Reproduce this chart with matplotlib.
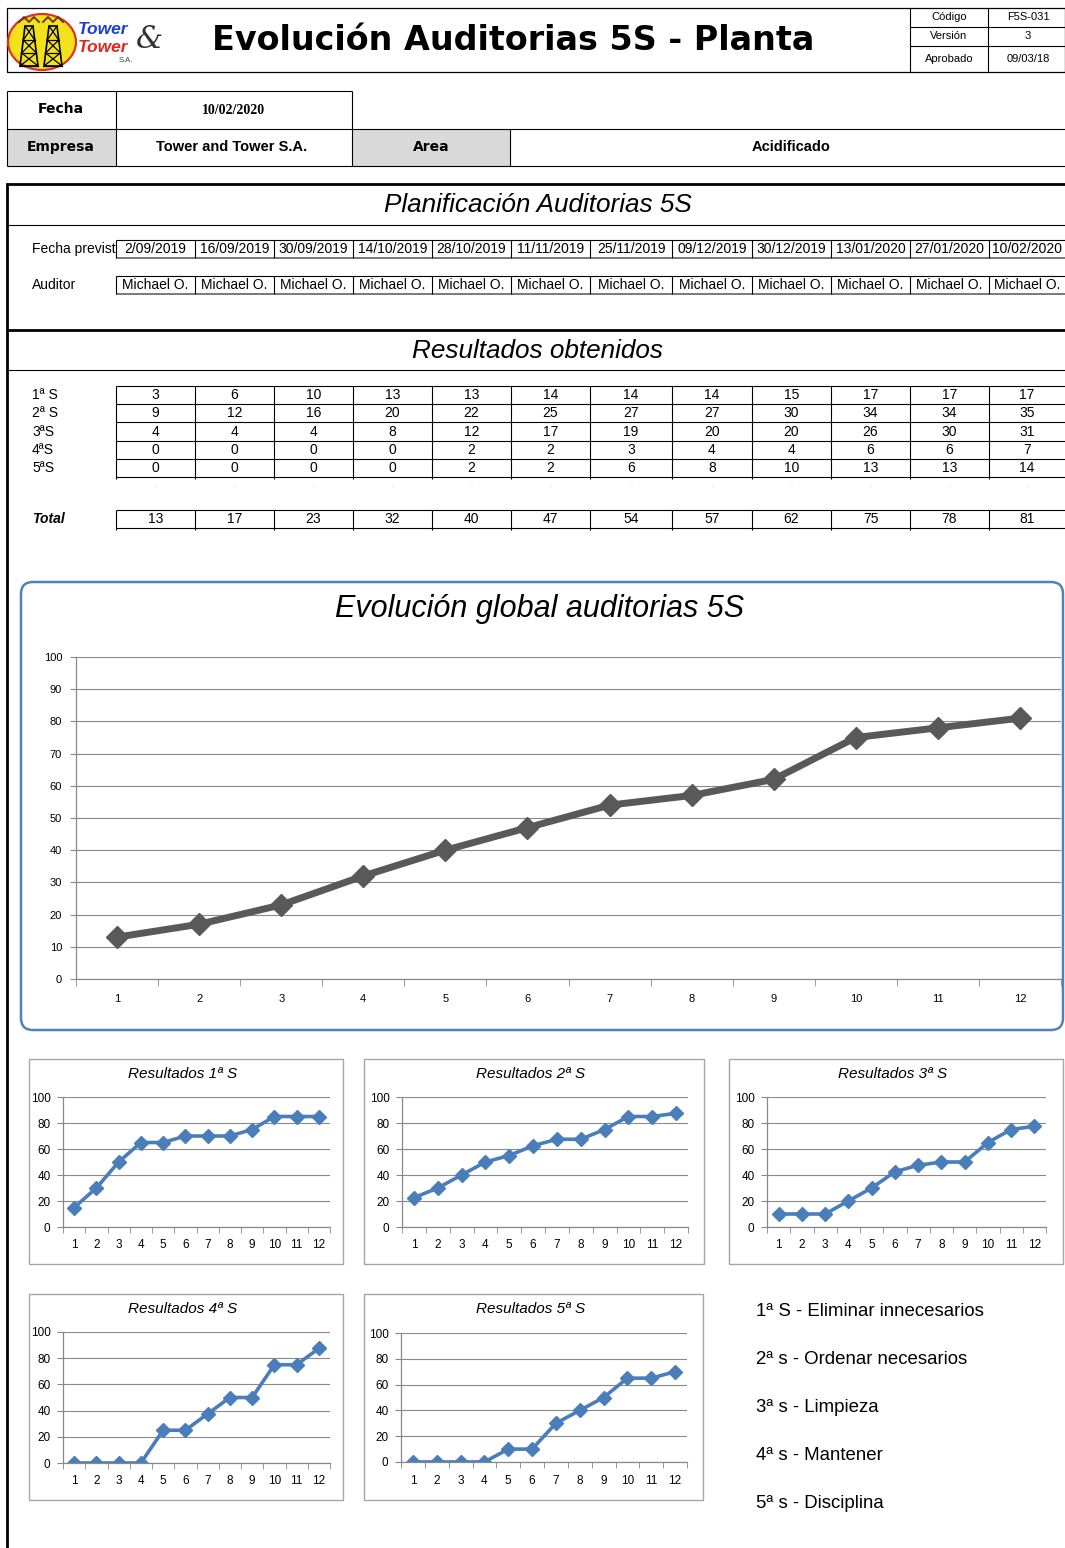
import matplotlib
matplotlib.use("Agg")
import matplotlib.pyplot as plt
from matplotlib.patches import Rectangle, FancyBboxPatch, Ellipse, Polygon
import numpy as np

plt.rcParams["font.family"] = ["Liberation Sans", "DejaVu Sans"]

# ---------------- data ----------------
fechas = ["2/09/2019", "16/09/2019", "30/09/2019", "14/10/2019", "28/10/2019", "11/11/2019",
          "25/11/2019", "09/12/2019", "30/12/2019", "13/01/2020", "27/01/2020", "10/02/2020"]
auditores = ["Michael O."] * 12
filas = ["1ª S", "2ª S", "3ªS", "4ªS", "5ªS"]
s1 = [3, 6, 10, 13, 13, 14, 14, 14, 15, 17, 17, 17]
s2 = [9, 12, 16, 20, 22, 25, 27, 27, 30, 34, 34, 35]
s3 = [4, 4, 4, 8, 12, 17, 19, 20, 20, 26, 30, 31]
s4 = [0, 0, 0, 0, 2, 2, 3, 4, 4, 6, 6, 7]
s5 = [0, 0, 0, 0, 2, 2, 6, 8, 10, 13, 13, 14]
total = [13, 17, 23, 32, 40, 47, 54, 57, 62, 75, 78, 81]
auditoria = list(range(1, 13))

pct1 = [15, 30, 50, 65, 65, 70, 70, 70, 75, 85, 85, 85]
pct2 = [22.5, 30, 40, 50, 55, 62.5, 67.5, 67.5, 75, 85, 85, 87.5]
pct3 = [10, 10, 10, 20, 30, 42.5, 47.5, 50, 50, 65, 75, 77.5]
pct4 = [0, 0, 0, 0, 25, 25, 37.5, 50, 50, 75, 75, 87.5]
pct5 = [0, 0, 0, 0, 10, 10, 30, 40, 50, 65, 65, 70]
titulos = ["Resultados 1ª S", "Resultados 2ª S", "Resultados 3ª S",
           "Resultados 4ª S", "Resultados 5ª S"]
leyenda = ["1ª S - Eliminar innecesarios", "2ª s - Ordenar necesarios", "3ª s - Limpieza",
           "4ª s - Mantener", "5ª s - Disciplina"]

# ---------------- canvas ----------------
W, H = 1065, 1548
fig = plt.figure(figsize=(W / 100, H / 100), dpi=100)
fig.patch.set_facecolor("white")
ax0 = fig.add_axes([0, 0, 1, 1])
ax0.set_xlim(0, W)
ax0.set_ylim(H, 0)
ax0.axis("off")


def hline(y, x0, x1, lw=0.8, color="black"):
    ax0.plot([x0, x1], [y, y], color=color, lw=lw, solid_capstyle="butt")


def vline(x, y0, y1, lw=0.8, color="black"):
    ax0.plot([x, x], [y0, y1], color=color, lw=lw, solid_capstyle="butt")


def txt(x, y, s, **kw):
    kw.setdefault("ha", "center")
    kw.setdefault("va", "center")
    ax0.text(x, y, s, **kw)


def px_axes(x0, y0, x1, y1):
    return fig.add_axes([x0 / W, 1 - y1 / H, (x1 - x0) / W, (y1 - y0) / H])


# ---------------- header ----------------
ax0.add_patch(Rectangle((7, 8), 1058, 64, fill=False, lw=0.9, ec="black"))
vline(910, 8, 72)
vline(988, 8, 72)
hline(27, 910, 1065)
hline(46, 910, 1065)
for y, a, b in [(17, "Código", "F5S-031"), (36, "Versión", "3"), (59, "Aprobado", "09/03/18")]:
    txt(949, y, a, fontsize=8)
    txt(1028, y, b, fontsize=8)
txt(513, 40, "Evolución Auditorias 5S - Planta", fontsize=24, fontweight="bold",
    family="DejaVu Sans")

# logo
ax0.add_patch(Ellipse((42, 42), 68, 56, fc="#f3e21a", ec="#d8342a", lw=1.6))
for cx in (29, 53):
    ax0.add_patch(Polygon([[cx - 4, 26], [cx + 4, 26], [cx + 9, 66], [cx - 9, 66]],
                          closed=True, fill=False, ec="black", lw=1.2))
    for ya, yb in [(26, 40), (40, 53), (53, 66)]:
        wa = 4 + (ya - 26) * 5 / 40
        wb = 4 + (yb - 26) * 5 / 40
        ax0.plot([cx - wa, cx + wb], [ya, yb], color="black", lw=0.9)
        ax0.plot([cx + wa, cx - wb], [ya, yb], color="black", lw=0.9)
        ax0.plot([cx - wb, cx + wb], [yb, yb], color="black", lw=0.9)
    ax0.plot([cx - 10, cx - 5, cx, cx + 5, cx + 10], [22, 17, 22, 17, 22], color="#6b3a12", lw=1.4)
txt(103, 30, "Tower", fontsize=12.5, fontweight="bold", fontstyle="italic", color="#1c3fd4")
txt(103, 47, "Tower", fontsize=12.5, fontweight="bold", fontstyle="italic", color="#e2261c")
txt(149, 39, "&", fontsize=22, fontstyle="italic", color="#333333", family="DejaVu Serif")
txt(126, 60, "S.A.", fontsize=5.5, color="#444444")

# ---------------- fecha / empresa block ----------------
ax0.add_patch(Rectangle((7, 129), 109, 37, fc="#d9d9d9", ec="none"))
ax0.add_patch(Rectangle((352, 129), 158, 37, fc="#d9d9d9", ec="none"))
hline(91, 7, 352)
hline(129, 7, 1065)
hline(166, 7, 1065)
for x in (7, 116, 352):
    vline(x, 91, 166)
vline(510, 129, 166)
txt(61, 109, "Fecha", fontsize=10, fontweight="heavy", family="DejaVu Sans")
txt(234, 110, "10/02/2020", fontsize=10, fontweight="bold", family="Liberation Serif")
txt(61, 147, "Empresa", fontsize=10, fontweight="heavy", family="DejaVu Sans")
txt(232, 147, "Tower and Tower S.A.", fontsize=10.5, fontweight="bold")
txt(431, 147, "Area", fontsize=10, fontweight="heavy", family="DejaVu Sans")
txt(791, 147, "Acidificado", fontsize=10.5, fontweight="bold")

# ---------------- planning and results section ----------------
hline(184, 6, 1065, lw=2)
vline(7, 183, 1548, lw=2)
hline(225, 7, 1065, lw=0.8)
hline(330, 7, 1065, lw=2)
hline(370, 7, 1065, lw=0.8)
txt(538, 205, "Planificación Auditorias 5S", fontsize=18.8, fontstyle="italic")
txt(538, 351, "Resultados obtenidos", fontsize=18.8, fontstyle="italic")

cols = [116, 195, 274, 353, 432, 511, 590, 672, 752, 831, 910, 989, 1065]
centers = [(a + b) / 2 for a, b in zip(cols[:-1], cols[1:])]

# planned dates and auditor rows
for (top, bot, ymid, label, values) in [(240, 258, 249, "Fecha previst", fechas),
                                        (276, 294, 285, "Auditor", auditores)]:
    hline(top, 116, 1065)
    hline(bot, 116, 1065, color="#555555", lw=1.1)
    for x in cols[:-1]:
        vline(x, top, bot)
    txt(32, ymid, label, fontsize=10, ha="left")
    for cx, v in zip(centers, values):
        txt(cx, ymid, v, fontsize=10)

# scores table
row_lines = [386, 404, 422, 441, 459, 477]
for y in row_lines:
    hline(y, 116, 1065)
for x in cols[:-1]:
    vline(x, 386, 479)
for i, (lab, vals) in enumerate(zip(filas, [s1, s2, s3, s4, s5])):
    ym = (row_lines[i] + row_lines[i + 1]) / 2
    txt(32, ym, lab, fontsize=10, ha="left")
    for cx, v in zip(centers, vals):
        txt(cx, ym, str(v), fontsize=10)
for cx in centers:
    txt(cx, 487, ":", fontsize=5, color="#c0c0c0")

hline(510, 116, 1065)
hline(528, 116, 1065)
for x in cols[:-1]:
    vline(x, 510, 530)
txt(32, 519, "Total", fontsize=10, ha="left", fontweight="bold", fontstyle="italic")
for cx, v in zip(centers, total):
    txt(cx, 519, str(v), fontsize=10)

# ---------------- global chart ----------------
ax0.add_patch(FancyBboxPatch((21, 582), 1042, 448, boxstyle="round,pad=0,rounding_size=12",
                             fc="white", ec="#4f81bd", lw=1.8))
txt(540, 609, "Evolución global auditorias 5S", fontsize=22, fontstyle="italic")


def style_axes(ax, ystep, fs, xpad, ypad, minor_len):
    ax.set_xlim(0.5, 12.5)
    ax.set_ylim(0, 100)
    ax.set_yticks(range(0, 101, ystep))
    ax.set_xticks(auditoria)
    ax.set_xticks(np.arange(0.5, 13, 1), minor=True)
    ax.tick_params(axis="x", which="major", length=0, pad=xpad, labelsize=fs)
    ax.tick_params(axis="x", which="minor", length=minor_len, color="#888888", direction="out")
    ax.tick_params(axis="y", length=4, color="#888888", pad=ypad, labelsize=fs)
    ax.grid(axis="y", color="#8a8a8a", lw=0.8)
    ax.set_axisbelow(True)
    for sp in ("top", "right"):
        ax.spines[sp].set_visible(False)
    for sp in ("left", "bottom"):
        ax.spines[sp].set_color("#888888")
        ax.spines[sp].set_linewidth(0.9)
    ax.patch.set_alpha(0)


axg = px_axes(76, 657, 1061, 979)
style_axes(axg, 10, 8, 11, 6, 5)
axg.plot(auditoria, total, color="#595959", lw=5, marker="D", markersize=11,
         solid_joinstyle="round")

# ---------------- per-S charts ----------------
small = [
    ((29, 1059, 343, 1264), (63, 1097, 330, 1227), pct1),
    ((364, 1059, 704, 1264), (402, 1097, 688, 1227), pct2),
    ((729, 1059, 1063, 1264), (767, 1097, 1046, 1227), pct3),
    ((29, 1294, 343, 1500), (63, 1332, 330, 1463), pct4),
    ((364, 1294, 703, 1500), (401, 1333, 687, 1462), pct5),
]
for (frame, area, vals), title in zip(small, titulos):
    fx0, fy0, fx1, fy1 = frame
    ax0.add_patch(Rectangle((fx0, fy0), fx1 - fx0, fy1 - fy0, fill=False, ec="#a6a6a6", lw=1))
    txt((fx0 + fx1) / 2 - 3, fy0 + 15, title, fontsize=11, fontstyle="italic")
    ax = px_axes(*area)
    style_axes(ax, 20, 8.5, 9, 5, 4)
    ax.plot(auditoria, vals, color="#4a7ebb", lw=2.6, marker="D", markersize=7.5,
            solid_joinstyle="round")

# legend of the five S
for i, s in enumerate(leyenda):
    txt(756, 1311 + 48 * i, s, fontsize=13.4, ha="left")

fig.savefig("out.png", dpi=100)
